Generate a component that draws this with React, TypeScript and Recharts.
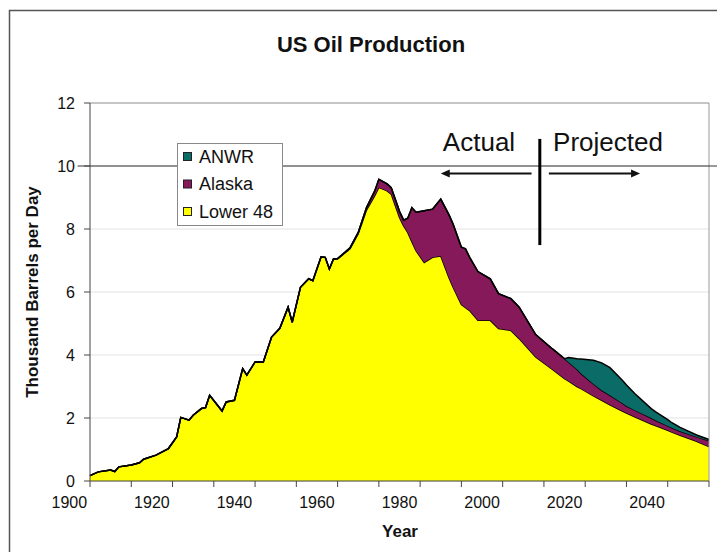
import React from "react";
import {
  AreaChart,
  Area,
  XAxis,
  YAxis,
  CartesianGrid,
  ReferenceLine,
} from "recharts";

// years (irregular steps where the curve turns)
const years = [
  1900, 1902, 1905, 1906, 1907, 1910, 1912, 1913, 1916, 1919, 1921, 1922, 1924,
  1925, 1927, 1928, 1929, 1932, 1933, 1935, 1937, 1938, 1940, 1942, 1944, 1946,
  1948, 1949, 1951, 1953, 1954, 1956, 1957, 1958, 1959, 1960, 1963, 1965, 1967,
  1969, 1970, 1972, 1973, 1975, 1976, 1977, 1978, 1979, 1981, 1983, 1985, 1987,
  1988, 1990, 1991, 1992, 1994, 1997, 1999, 2002, 2004, 2008, 2012, 2015, 2016,
  2018, 2019, 2022, 2024, 2026, 2029, 2030, 2032, 2036, 2037, 2040, 2041, 2043,
  2047, 2050,
];

const lower48 = [
  0.17, 0.29, 0.35, 0.3, 0.45, 0.51, 0.58, 0.69, 0.82, 1.03, 1.4, 2.02, 1.93,
  2.09, 2.3, 2.33, 2.72, 2.22, 2.51, 2.56, 3.57, 3.36, 3.78, 3.78, 4.57, 4.85,
  5.52, 5.04, 6.15, 6.42, 6.36, 7.12, 7.1, 6.73, 7.05, 7.05, 7.37, 7.85, 8.6,
  9.06, 9.32, 9.21, 9.11, 8.37, 8.1, 7.89, 7.6, 7.31, 6.94, 7.1, 7.14, 6.45,
  6.15, 5.6, 5.5, 5.41, 5.1, 5.1, 4.84, 4.78, 4.52, 3.94, 3.55, 3.25, 3.17,
  3.0, 2.93, 2.7, 2.56, 2.42, 2.22, 2.16, 2.04, 1.81, 1.76, 1.61, 1.55, 1.45,
  1.26, 1.09,
];

const alaska = [
  0, 0, 0, 0, 0, 0, 0, 0, 0, 0, 0, 0, 0, 0, 0, 0, 0, 0, 0, 0, 0, 0, 0, 0, 0, 0,
  0, 0, 0, 0, 0, 0, 0, 0, 0, 0.01, 0.03, 0.04, 0.08, 0.15, 0.26, 0.22, 0.2,
  0.19, 0.18, 0.45, 1.08, 1.22, 1.64, 1.53, 1.81, 2.0, 2.0, 1.82, 1.87, 1.69,
  1.55, 1.32, 1.11, 1.01, 1.0, 0.71, 0.65, 0.63, 0.6, 0.55, 0.48, 0.38, 0.32,
  0.3, 0.25, 0.22, 0.21, 0.19, 0.17, 0.14, 0.14, 0.13, 0.14, 0.19,
];

const anwr = [
  0, 0, 0, 0, 0, 0, 0, 0, 0, 0, 0, 0, 0, 0, 0, 0, 0, 0, 0, 0, 0, 0, 0, 0, 0, 0,
  0, 0, 0, 0, 0, 0, 0, 0, 0, 0, 0, 0, 0, 0, 0, 0, 0, 0, 0, 0, 0, 0, 0, 0, 0, 0,
  0, 0, 0, 0, 0, 0, 0, 0, 0, 0, 0, 0, 0.15, 0.33, 0.46, 0.75, 0.87, 0.88, 0.73,
  0.67, 0.53, 0.3, 0.27, 0.2, 0.16, 0.12, 0.06, 0.04,
];

const xTicks = [
  1900, 1910, 1920, 1930, 1940, 1950, 1960, 1970, 1980, 1990, 2000, 2010, 2020,
  2030, 2040, 2050,
];
const yTicks = [0, 2, 4, 6, 8, 10, 12];

const data = years.map((year, i) => ({
  year,
  lower48: lower48[i],
  alaska: alaska[i],
  anwr: anwr[i],
}));

const FONT = "'Liberation Sans', Arial, sans-serif";
const W = 717;
const H = 552;
const PLOT_LEFT = 90;
const PLOT_RIGHT = 709;
// labels sit half a tick-gap to the left of their tick, as in the original
const HALF_GAP = ((PLOT_RIGHT - PLOT_LEFT) / 150) * 5;

const XTick = (props: any) => {
  const { x, y, payload } = props;
  const v = payload.value;
  if (v % 20 !== 0 || v >= 2050) return <g />;
  return (
    <text
      x={x - HALF_GAP}
      y={y + 19}
      textAnchor="middle"
      fontFamily={FONT}
      fontSize={16}
      fill="#111"
    >
      {v}
    </text>
  );
};

const Arrow = (props: any) => {
  const { x1, y1, x2, y2 } = props;
  const dir = x2 > x1 ? 1 : -1;
  return (
    <g>
      <line x1={x1} y1={y1} x2={x2 - dir * 6} y2={y2} stroke="#111" strokeWidth={2} />
      <polygon
        points={`${x2},${y2} ${x2 - dir * 9},${y2 - 4} ${x2 - dir * 9},${y2 + 4}`}
        fill="#111"
      />
    </g>
  );
};

const legendItems = [
  { name: "ANWR", color: "#0B6B66" },
  { name: "Alaska", color: "#85195A" },
  { name: "Lower 48", color: "#FFFF00" },
];

export default function App() {
  return (
    <div style={{ position: "absolute", left: 0, top: 0, width: W, height: H }}>
      <AreaChart
        width={W}
        height={H}
        data={data}
        margin={{ top: 103, right: W - PLOT_RIGHT, bottom: 31, left: 0 }}
      >
        <CartesianGrid vertical={false} stroke="#e2e2e2" />
        <XAxis
          dataKey="year"
          type="number"
          domain={[1900, 2050]}
          ticks={xTicks}
          interval={0}
          height={40}
          tickSize={6}
          tick={<XTick />}
          axisLine={{ stroke: "#444" }}
          tickLine={{ stroke: "#444" }}
        />
        <YAxis
          type="number"
          domain={[0, 12]}
          ticks={yTicks}
          interval={0}
          width={PLOT_LEFT}
          tickSize={6}
          tickMargin={9}
          axisLine={{ stroke: "#444" }}
          tickLine={{ stroke: "#444" }}
          tick={{ fontFamily: FONT, fontSize: 16, fill: "#111" }}
        />
        <ReferenceLine y={12} stroke="#999" />
        <ReferenceLine x={2050} stroke="#999" />
        <Area
          type="linear"
          dataKey="lower48"
          stackId="1"
          stroke="#000"
          strokeWidth={1.5}
          fill="#FFFF00"
          fillOpacity={1}
          isAnimationActive={false}
        />
        <Area
          type="linear"
          dataKey="alaska"
          stackId="1"
          stroke="#000"
          strokeWidth={1.5}
          fill="#85195A"
          fillOpacity={1}
          isAnimationActive={false}
        />
        <Area
          type="linear"
          dataKey="anwr"
          stackId="1"
          stroke="#000"
          strokeWidth={1.5}
          fill="#0B6B66"
          fillOpacity={1}
          isAnimationActive={false}
        />
        <ReferenceLine
          segment={[
            { x: 1897, y: 10 },
            { x: 2065, y: 10 },
          ]}
          ifOverflow="visible"
          stroke="#333"
        />
        <ReferenceLine
          segment={[
            { x: 2009, y: 10.86 },
            { x: 2009, y: 7.49 },
          ]}
          stroke="#000"
          strokeWidth={3}
        />
        <ReferenceLine
          segment={[
            { x: 2007, y: 9.76 },
            { x: 1985, y: 9.76 },
          ]}
          shape={<Arrow />}
        />
        <ReferenceLine
          segment={[
            { x: 2011.2, y: 9.76 },
            { x: 2033.3, y: 9.76 },
          ]}
          shape={<Arrow />}
        />
      </AreaChart>
      <svg
        width={W}
        height={H}
        style={{ position: "absolute", left: 0, top: 0, pointerEvents: "none" }}
      >
        <rect x={9.5} y={10.5} width={800} height={700} fill="none" stroke="#555" strokeWidth={1.5} />
        <text x={371} y={52} textAnchor="middle" fontFamily={FONT} fontSize={22} fontWeight="bold" fill="#111">
          US Oil Production
        </text>
        <text
          x={0}
          y={0}
          transform="translate(38,292) rotate(-90)"
          textAnchor="middle"
          fontFamily={FONT}
          fontSize={17}
          fontWeight="bold"
          fill="#111"
        >
          Thousand Barrels per Day
        </text>
        <text x={400} y={537} textAnchor="middle" fontFamily={FONT} fontSize={17} fontWeight="bold" fill="#111">
          Year
        </text>
        <text x={479} y={151} textAnchor="middle" fontFamily={FONT} fontSize={26} fill="#111">
          Actual
        </text>
        <text x={608} y={151} textAnchor="middle" fontFamily={FONT} fontSize={26} fill="#111">
          Projected
        </text>
        <rect x={177.5} y={143.5} width={105} height={82} fill="#fff" stroke="#888" />
        {legendItems.map((it, i) => (
          <g key={it.name}>
            <rect x={183.5} y={152.5 + i * 27.5} width={8} height={8} fill={it.color} stroke="#222" />
            <text x={199} y={162.5 + i * 27.5} fontFamily={FONT} fontSize={18} fill="#111">
              {it.name}
            </text>
          </g>
        ))}
      </svg>
    </div>
  );
}
